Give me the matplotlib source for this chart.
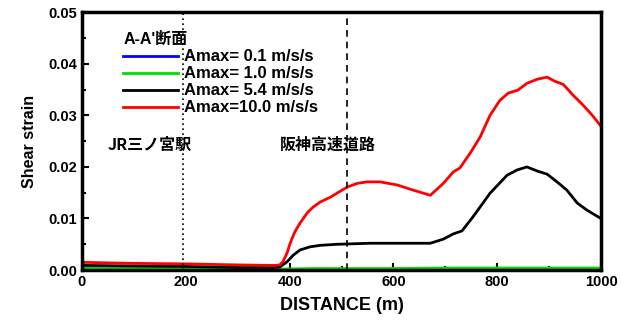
import matplotlib
matplotlib.use('Agg')
import matplotlib.pyplot as plt
from matplotlib.ticker import MultipleLocator

plt.rcParams['font.family'] = ['Liberation Sans', 'Noto Sans CJK JP', 'DejaVu Sans']

# データ
x_blue = [0, 200, 380, 500, 700, 900, 1000]
y_blue = [0.0001, 0.0001, 0.0001, 0.0001, 0.0001, 0.0001, 0.0001]

x_green = [0, 100, 200, 300, 380, 450, 600, 700, 800, 900, 1000]
y_green = [0.0004, 0.0004, 0.0003, 0.0003, 0.0002, 0.0003, 0.0003, 0.0004, 0.0004, 0.0004, 0.0004]

x_black = [0, 100, 200, 300, 370, 381, 395, 407, 420, 439, 459, 491, 555, 620, 671, 696, 715, 732,
           753, 786, 819, 838, 857, 877, 896, 915, 934, 954, 973, 998]
y_black = [0.0009, 0.0008, 0.0007, 0.0005, 0.0005, 0.0006, 0.0016, 0.0029, 0.0039, 0.0045, 0.0048,
           0.0050, 0.0052, 0.0052, 0.0052, 0.0060, 0.0070, 0.0076, 0.0103, 0.0149, 0.0184, 0.0194,
           0.0200, 0.0192, 0.0186, 0.0171, 0.0155, 0.0130, 0.0116, 0.0101]

x_red = [0, 100, 200, 300, 370, 381, 387, 395, 401, 410, 420, 434, 445, 459, 478, 491, 511, 530,
         549, 574, 607, 638, 671, 696, 715, 728, 748, 767, 786, 805, 821, 840, 857, 877, 896, 911,
         927, 946, 965, 983, 998]
y_red = [0.0015, 0.0013, 0.0012, 0.0010, 0.0009, 0.0010, 0.0016, 0.0033, 0.0052, 0.0074, 0.0091,
         0.0111, 0.0122, 0.0132, 0.0141, 0.0149, 0.0161, 0.0168, 0.0171, 0.0171, 0.0165, 0.0155,
         0.0145, 0.0168, 0.0190, 0.0198, 0.0227, 0.0258, 0.0300, 0.0329, 0.0343, 0.0349, 0.0362,
         0.0370, 0.0374, 0.0366, 0.0360, 0.0339, 0.0320, 0.0300, 0.0281]

labels = ['Amax= 0.1 m/s/s', 'Amax= 1.0 m/s/s', 'Amax= 5.4 m/s/s', 'Amax=10.0 m/s/s']

fig = plt.figure(figsize=(6.21, 3.2), dpi=100)
ax = fig.add_axes([0.132, 0.156, 0.836, 0.806])

ax.plot(x_blue, y_blue, color='#0000ff', lw=2, label=labels[0])
ax.plot(x_green, y_green, color='#00dd00', lw=2, label=labels[1])
ax.plot(x_black, y_black, color='black', lw=2, label=labels[2])
ax.plot(x_red, y_red, color='red', lw=2, label=labels[3])

ax.axvline(195, color='black', ls=(0, (1, 2)), lw=1.2)
ax.axvline(510, color='black', ls=(0, (4, 3)), lw=1.2)

ax.text(50, 0.0242, 'JR三ノ宮駅', fontsize=11.5, fontweight='bold', va='center',
        family=['Noto Sans CJK JP'])
ax.text(381, 0.0242, '阪神高速道路', fontsize=11.5, fontweight='bold', va='center',
        family=['Noto Sans CJK JP'])

ax.set_xlim(0, 1000)
ax.set_ylim(0, 0.05)
ax.xaxis.set_major_locator(MultipleLocator(200))
ax.xaxis.set_minor_locator(MultipleLocator(100))
ax.yaxis.set_minor_locator(MultipleLocator(0.005))
ax.set_yticks([0, 0.01, 0.02, 0.03, 0.04, 0.05])
ax.set_yticklabels(['0.00', '0.01', '0.02', '0.03', '0.04', '0.05'])
ax.tick_params(which='both', direction='in', width=1.5, labelsize=10.5)
ax.tick_params(which='major', length=5)
ax.tick_params(which='minor', length=3)
for lab in ax.get_xticklabels() + ax.get_yticklabels():
    lab.set_fontweight('bold')
for s in ax.spines.values():
    s.set_linewidth(2.5)

ax.set_xlabel('DISTANCE (m)', fontsize=13, fontweight='bold', labelpad=6)
ax.set_ylabel('Shear strain', fontsize=11.5, fontweight='bold', labelpad=8)

leg = ax.legend(loc='upper left', bbox_to_anchor=(0.057, 0.967), frameon=False, title="A-A'断面",
                prop={'weight': 'bold', 'size': 12}, handlelength=3.3, labelspacing=0.12,
                borderpad=0.2, handletextpad=0.35)
leg.get_title().set_fontweight('bold')
leg.get_title().set_fontsize(11.5)
leg.get_title().set_family(['Liberation Sans', 'Noto Sans CJK JP'])
leg._legend_box.align = 'left'

fig.savefig('out.png', dpi=100)
